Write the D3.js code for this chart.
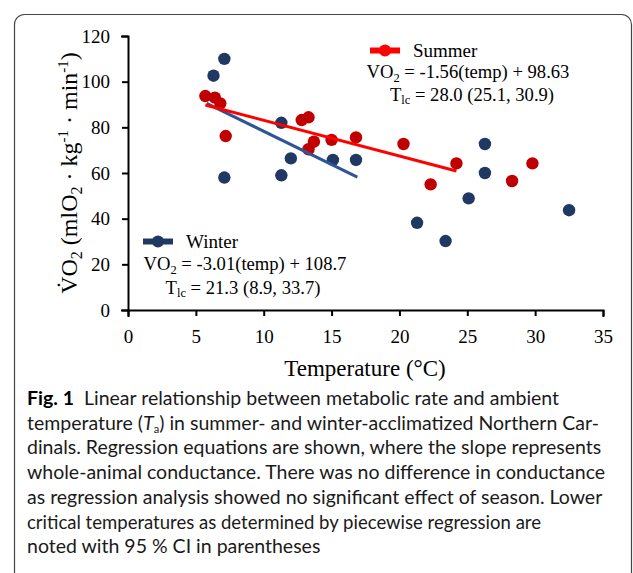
<!DOCTYPE html>
<html>
<head>
<meta charset="utf-8">
<script src="https://cdn.jsdelivr.net/npm/d3@7"></script>
<style>
  body { margin: 0; background: #fff; }
  svg { display: block; }
  .serif { font-family: "Liberation Serif", "Times New Roman", serif; fill: #000; }
  .axis path, .axis line { stroke: #000; stroke-width: 2px; }
  .axis text { font-family: "Liberation Serif", "Times New Roman", serif; font-size: 19px; fill: #000; }
  .caption { font-family: Lato, "Open Sans", sans-serif; font-size: 19.5px; fill: #1a1a1a; }
</style>
</head>
<body>
<svg width="633" height="573"></svg>
<script>
// winter-acclimatized birds
const winterTemp = [6.3, 7.1, 7.1, 11.3, 11.3, 12.0, 15.1, 16.8, 21.3, 23.4, 25.1, 26.3, 26.3, 32.5]
const winterVO2  = [102.6, 110, 58, 82, 59, 66.4, 65.7, 65.7, 38.2, 30.2, 48.9, 72.7, 60, 43.7]

// summer-acclimatized birds
const summerTemp = [5.7, 6.4, 6.8, 7.2, 12.8, 13.3, 13.3, 13.7, 15.0, 16.8, 20.3, 22.3, 24.2, 28.3, 29.8]
const summerVO2  = [93.7, 93, 90.5, 76.2, 83.2, 84.4, 70.4, 73.7, 74.5, 75.6, 72.7, 55, 64.2, 56.5, 64.2]

// regression line end points as drawn
const winterFit = [[5.8, 90.5], [16.9, 58.2]]
const summerFit = [[5.7, 89.8], [24.2, 60.9]]

const xTicks = [0, 5, 10, 15, 20, 25, 30, 35]
const yTicks = [0, 20, 40, 60, 80, 100, 120]

const captionLines = [
  [{t: "Fig. 1", w: "bold"}, {t: "  Linear relationship between metabolic rate and ambient"}],
  [{t: "temperature ("}, {t: "T", s: "italic"}, {t: "a", sub: true}, {t: ") in summer- and winter-acclimatized Northern Car-", up: true}],
  [{t: "dinals. Regression equations are shown, where the slope represents"}],
  [{t: "whole-animal conductance. There was no difference in conductance"}],
  [{t: "as regression analysis showed no significant effect of season. Lower"}],
  [{t: "critical temperatures as determined by piecewise regression are"}],
  [{t: "noted with 95 % CI in parentheses"}]
]
const captionWidths = [574, 585, 583, 596, 586, 514, 323]

const svg = d3.select("svg")

svg.append("rect").attr("width", 633).attr("height", 573).attr("fill", "#fff")

// figure frame (right and bottom run off the page)
svg.append("rect")
  .attr("x", 14.5).attr("y", 14.5)
  .attr("width", 617).attr("height", 640)
  .attr("rx", 10)
  .attr("fill", "none")
  .attr("stroke", "#444")
  .attr("stroke-width", 1.2)

const x = d3.scaleLinear().domain([0, 35]).range([128, 603]),
      y = d3.scaleLinear().domain([0, 120]).range([310, 36])

const line = d3.line().x(d => x(d[0])).y(d => y(d[1]))

// axes
svg.append("g")
  .attr("class", "axis")
  .attr("transform", "translate(0," + y(0) + ")")
  .call(d3.axisBottom(x).tickValues(xTicks).tickSize(6).tickSizeOuter(6).tickPadding(14).tickFormat(d3.format("d")))

svg.append("g")
  .attr("class", "axis")
  .attr("transform", "translate(" + x(0) + ",0)")
  .call(d3.axisLeft(y).tickValues(yTicks).tickSize(6).tickSizeOuter(6).tickPadding(12).tickFormat(d3.format("d")))

svg.selectAll(".axis path").attr("stroke-linecap", "square")

// points
const winter = winterTemp.map((t, i) => ({t: t, v: winterVO2[i]}))
const summer = summerTemp.map((t, i) => ({t: t, v: summerVO2[i]}))

svg.append("g").selectAll("circle")
  .data(winter)
  .enter().append("circle")
    .attr("cx", d => x(d.t))
    .attr("cy", d => y(d.v))
    .attr("r", 6.2)
    .attr("fill", "#1f3864")

svg.append("g").selectAll("circle")
  .data(summer)
  .enter().append("circle")
    .attr("cx", d => x(d.t))
    .attr("cy", d => y(d.v))
    .attr("r", 6.2)
    .attr("fill", "#c00000")

// regression lines
svg.append("path").attr("d", line(winterFit))
  .attr("fill", "none").attr("stroke", "#2f5597").attr("stroke-width", 3)
svg.append("path").attr("d", line(summerFit))
  .attr("fill", "none").attr("stroke", "#ff0000").attr("stroke-width", 3)

// legends
function legend(lx, ly, color, name, eq, tlc) {
  const g = svg.append("g")
  g.append("line").attr("x1", lx).attr("x2", lx + 30).attr("y1", ly).attr("y2", ly)
    .attr("stroke", color).attr("stroke-width", 6)
  g.append("circle").attr("cx", lx + 15).attr("cy", ly).attr("r", 6).attr("fill", color)
  g.append("text").attr("class", "serif").attr("font-size", 19)
    .attr("x", lx + 43).attr("y", ly + 6.5).text(name)

  const e = g.append("text").attr("class", "serif").attr("font-size", 18.6)
    .attr("x", eq.x).attr("y", eq.y).attr("text-anchor", "middle")
  e.append("tspan").text("VO")
  e.append("tspan").attr("font-size", 12.5).attr("dy", 3.5).text("2")
  e.append("tspan").attr("dy", -3.5).text(" = " + eq.text)

  const t = g.append("text").attr("class", "serif").attr("font-size", 18.6)
    .attr("x", tlc.x).attr("y", tlc.y).attr("text-anchor", "middle")
  t.append("tspan").text("T")
  t.append("tspan").attr("font-size", 12.5).attr("dy", 3.5).text("lc")
  t.append("tspan").attr("dy", -3.5).text(" = " + tlc.text)
}

legend(370, 50.5, "#ff0000", "Summer",
  {x: 468, y: 78, text: "-1.56(temp) + 98.63"},
  {x: 472, y: 100.5, text: "28.0 (25.1, 30.9)"})

legend(143, 241.5, "#1f3864", "Winter",
  {x: 245, y: 270, text: "-3.01(temp) + 108.7"},
  {x: 243, y: 293.5, text: "21.3 (8.9, 33.7)"})

// axis titles
svg.append("text").attr("class", "serif").attr("font-size", 23)
  .attr("x", 365).attr("y", 376).attr("text-anchor", "middle")
  .text("Temperature (°C)")

const yt = svg.append("text").attr("class", "serif").attr("font-size", 24)
  .attr("text-anchor", "middle")
  .attr("transform", "translate(77,173) rotate(-90)")
yt.append("tspan").text("V\u0307O")
yt.append("tspan").attr("font-size", 16).attr("dy", 5).text("2")
yt.append("tspan").attr("dy", -5).text(" (mlO")
yt.append("tspan").attr("font-size", 16).attr("dy", 5).text("2")
yt.append("tspan").attr("dy", -5).text(" \u00b7 kg")
yt.append("tspan").attr("font-size", 15).attr("dy", -9).text("-1")
yt.append("tspan").attr("dy", 9).text(" \u00b7 min")
yt.append("tspan").attr("font-size", 15).attr("dy", -9).text("-1")
yt.append("tspan").attr("dy", 9).text(")")

// caption: measure each line, then squeeze glyphs only where it runs long
captionLines.forEach(function (parts, i) {
  const txt = svg.append("text").attr("class", "caption")
    .attr("x", 27).attr("y", 405 + i * 24.7)
    .attr("xml:space", "preserve")
  parts.forEach(function (p) {
    const ts = txt.append("tspan").text(p.t)
    if (p.w) ts.attr("font-weight", p.w).attr("fill", "#000")
    if (p.s) ts.attr("font-style", p.s)
    if (p.sub) ts.attr("font-size", 11).attr("dy", 3)
    if (p.up) ts.attr("dy", -3)
  })
  const w = txt.node().getComputedTextLength()
  if (w > captionWidths[i]) {
    txt.attr("textLength", captionWidths[i]).attr("lengthAdjust", "spacingAndGlyphs")
  }
})
</script>
</body>
</html>
